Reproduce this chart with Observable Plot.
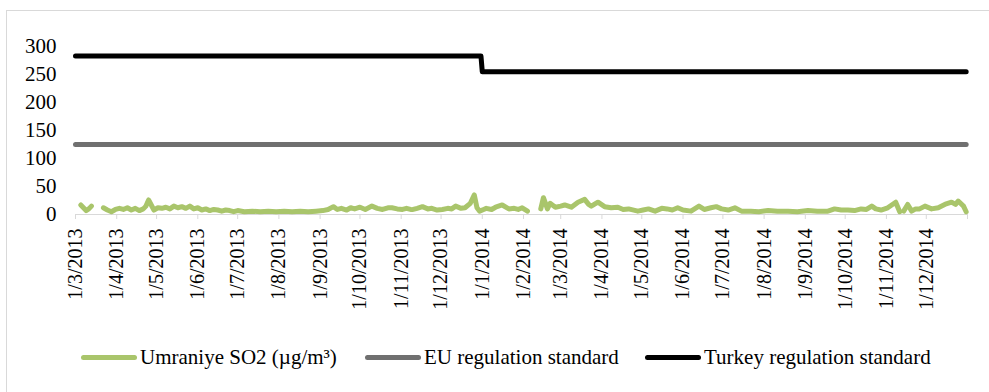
<!DOCTYPE html>
<html>
<head>
<meta charset="utf-8">
<script src="https://cdn.jsdelivr.net/npm/d3@7"></script>
<script src="https://cdn.jsdelivr.net/npm/@observablehq/plot@0.6"></script>
<style>
  html, body { margin: 0; padding: 0; background: #fff; }
  body { width: 989px; height: 392px; position: relative; overflow: hidden; font-family: "Liberation Serif", "Times New Roman", serif; }
  #frame { position: absolute; left: 6px; top: 10px; width: 1000px; height: 400px; border-left: 1px solid #d9d9d9; border-top: 1px solid #d9d9d9; pointer-events: none; }
  #chart { position: absolute; left: 0; top: 0; }
  #legend { position: absolute; left: 0; top: 330px; width: 989px; height: 62px; font-size: 21px; color: #000; }
  .item { position: absolute; top: 15px; display: flex; align-items: center; white-space: nowrap; }
  .sw { width: 56px; height: 5px; border-radius: 3px; margin-right: 3px; }
</style>
</head>
<body>
<div id="chart"></div>
<div id="legend"></div>
<div id="frame"></div>
<script>
const seriesNames = ["Umraniye SO2 (µg/m³)", "EU regulation standard", "Turkey regulation standard"];
const seriesColors = ["#a9c56b", "#707070", "#000000"];

const tickLabels = ["1/3/2013","1/4/2013","1/5/2013","1/6/2013","1/7/2013","1/8/2013","1/9/2013","1/10/2013","1/11/2013","1/12/2013",
  "1/1/2014","1/2/2014","1/3/2014","1/4/2014","1/5/2014","1/6/2014","1/7/2014","1/8/2014","1/9/2014","1/10/2014","1/11/2014","1/12/2014"];
const yTicks = [0, 50, 100, 150, 200, 250, 300];

const so2Dates = ["2013-03-05","2013-03-07","2013-03-09","2013-03-11","2013-03-13","2013-03-17","2013-03-22","2013-03-25","2013-03-28","2013-03-31",
"2013-04-03","2013-04-06","2013-04-09","2013-04-12","2013-04-15","2013-04-18","2013-04-21","2013-04-23","2013-04-25","2013-04-27","2013-04-29",
"2013-05-02","2013-05-05","2013-05-08","2013-05-11","2013-05-14","2013-05-17","2013-05-20","2013-05-23","2013-05-26","2013-05-29",
"2013-06-01","2013-06-04","2013-06-07","2013-06-10","2013-06-13","2013-06-16","2013-06-19","2013-06-22","2013-06-25","2013-06-28",
"2013-07-01","2013-07-06","2013-07-12","2013-07-18","2013-07-24","2013-07-30","2013-08-05","2013-08-11","2013-08-17","2013-08-23","2013-08-29",
"2013-09-03","2013-09-07","2013-09-11","2013-09-14","2013-09-17","2013-09-21","2013-09-24","2013-09-27",
"2013-10-01","2013-10-05","2013-10-10","2013-10-14","2013-10-18","2013-10-22","2013-10-25","2013-10-29",
"2013-11-02","2013-11-05","2013-11-08","2013-11-09","2013-11-10","2013-11-13","2013-11-17","2013-11-21","2013-11-24","2013-11-28",
"2013-12-02","2013-12-06","2013-12-09","2013-12-12","2013-12-16","2013-12-19","2013-12-23","2013-12-26","2013-12-28","2013-12-30",
"2014-01-02","2014-01-04","2014-01-08","2014-01-11","2014-01-16","2014-01-21","2014-01-25","2014-01-28","2014-01-31",
"2014-02-04","2014-02-09","2014-02-14","2014-02-16","2014-02-19","2014-02-21","2014-02-25",
"2014-03-01","2014-03-04","2014-03-09","2014-03-14","2014-03-19","2014-03-22","2014-03-24","2014-03-29",
"2014-04-03","2014-04-08","2014-04-13","2014-04-17","2014-04-21","2014-04-28",
"2014-05-02","2014-05-06","2014-05-11","2014-05-16","2014-05-20","2014-05-24","2014-05-28",
"2014-06-01","2014-06-07","2014-06-13","2014-06-17","2014-06-22","2014-06-26","2014-06-30",
"2014-07-05","2014-07-10","2014-07-15","2014-07-22","2014-07-28","2014-08-04","2014-08-11","2014-08-19","2014-08-26",
"2014-09-03","2014-09-10","2014-09-18","2014-09-23","2014-09-28",
"2014-10-03","2014-10-08","2014-10-13","2014-10-17","2014-10-21","2014-10-24","2014-10-28",
"2014-11-02","2014-11-08","2014-11-11","2014-11-12","2014-11-14","2014-11-17","2014-11-20","2014-11-23","2014-11-26","2014-11-30",
"2014-12-05","2014-12-10","2014-12-16","2014-12-20","2014-12-23","2014-12-25","2014-12-29","2014-12-31"];
const so2Values = [17,12,7,10,15,null,12,8,5,9,
11,9,12,8,11,7,10,15,26,17,8,
12,11,13,10,15,12,14,11,15,10,
12,8,10,7,9,8,6,8,7,5,
7,5,6,5,6,5,6,5,6,5,6,
7,9,14,9,11,8,12,10,
13,9,15,11,9,12,12,10,
9,11,9,null,9,11,14,10,11,8,
9,11,10,15,11,12,20,35,12,6,
9,11,9,13,17,10,11,9,12,
6,null,10,30,10,20,13,
15,17,13,22,27,18,15,22,
14,12,13,9,10,6,
8,10,6,11,10,8,12,
8,6,15,9,12,14,10,
8,12,6,6,5,7,6,6,5,
7,6,6,10,8,
8,7,10,9,15,10,8,
12,22,5,null,6,18,6,10,10,15,
10,12,19,22,18,24,15,5];

const euDates = ["2013-03-01", "2014-12-31"];
const euValues = [125, 125];
const turkeyDates = ["2013-03-01", "2013-12-31", "2014-01-01", "2014-12-31"];
const turkeyValues = [283, 283, 255, 255];

const parseISO = d3.utcParse("%Y-%m-%d");
const parseDMY = d3.utcParse("%d/%m/%Y");
const so2 = so2Dates.map((d, i) => ({date: parseISO(d), value: so2Values[i] == null ? NaN : so2Values[i]}));
const eu = euDates.map((d, i) => ({date: parseISO(d), value: euValues[i]}));
const turkey = turkeyDates.map((d, i) => ({date: parseISO(d), value: turkeyValues[i]}));
const tickDates = tickLabels.map(parseDMY);
const allTicks = tickDates.concat([parseISO("2015-01-01")]);
const labelOf = new Map(tickLabels.map((t, i) => [+tickDates[i], t]));

const plot = Plot.plot({
  width: 989,
  height: 330,
  marginLeft: 75,
  marginRight: 22,
  marginTop: 46,
  marginBottom: 116,
  style: {fontFamily: "'Liberation Serif', 'Times New Roman', serif", fontSize: "20px", color: "#000", background: "transparent"},
  x: {type: "utc", domain: [parseISO("2013-03-01"), parseISO("2015-01-01")], axis: null},
  y: {domain: [0, 300], axis: null},
  marks: [
    Plot.ruleY([0], {stroke: "#d9d9d9", strokeWidth: 1}),
    Plot.axisX({ticks: allTicks, tickSize: 5, tickFormat: () => "", label: null, stroke: "#d9d9d9", strokeOpacity: 1}),
    Plot.text(tickDates, {x: d => d, text: d => labelOf.get(+d), frameAnchor: "bottom", dy: 14, rotate: -90, textAnchor: "end", lineAnchor: "middle", fill: "#000", fontSize: 20}),
    Plot.axisY({ticks: yTicks, tickSize: 0, tickPadding: 19, fontSize: 21, fill: "#000", label: null}),
    Plot.line(so2, {x: "date", y: "value", stroke: seriesColors[0], strokeWidth: 5, strokeLinecap: "round", strokeLinejoin: "round"}),
    Plot.line(eu, {x: "date", y: "value", stroke: seriesColors[1], strokeWidth: 5, strokeLinecap: "round", strokeLinejoin: "round"}),
    Plot.line(turkey, {x: "date", y: "value", stroke: seriesColors[2], strokeWidth: 5, strokeLinecap: "round", strokeLinejoin: "round"})
  ]
});
document.getElementById("chart").appendChild(plot);

const legend = document.getElementById("legend");
const lefts = [81, 365, 645];
seriesNames.forEach((name, i) => {
  const item = document.createElement("div");
  item.className = "item";
  item.style.left = lefts[i] + "px";
  const sw = document.createElement("div");
  sw.className = "sw";
  sw.style.background = seriesColors[i];
  const tx = document.createElement("span");
  tx.textContent = name;
  item.appendChild(sw);
  item.appendChild(tx);
  legend.appendChild(item);
});
</script>
</body>
</html>
